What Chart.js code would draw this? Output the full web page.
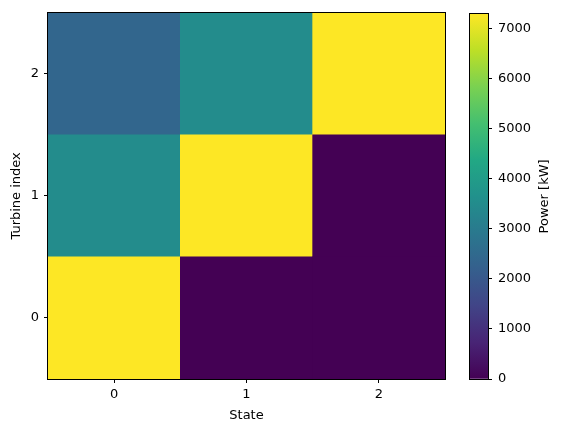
<!DOCTYPE html>
<html>
<head>
<meta charset="utf-8">
<script src="https://cdn.jsdelivr.net/npm/chart.js@4/dist/chart.umd.min.js"></script>
<style>
  body { margin: 0; background: #fff; }
  #wrap { position: relative; width: 562px; height: 432px; }
  #wrap canvas { position: absolute; left: 0; top: 0; }
</style>
</head>
<body>
<div id="wrap">
  <canvas id="heat" width="562" height="432"></canvas>
  <canvas id="cbar" width="562" height="432"></canvas>
</div>
<script>
// data
const states = ["0", "1", "2"];
const turbines = [0, 1, 2];
// power per turbine (row) for each state (column)
const power0 = [7300, 0, 0];
const power1 = [3500, 7300, 0];
const power2 = [2400, 3500, 7300];
const vmax = 7300;
const colorTicks = [0, 1000, 2000, 3000, 4000, 5000, 6000, 7000];

const powerRows = [power0, power1, power2];

Chart.defaults.font.family = "DejaVu Sans";
Chart.defaults.font.size = 13;
Chart.defaults.color = "#000";
Chart.defaults.animation = false;

// viridis stops
const viridis = ["#440154", "#482475", "#414487", "#355f8d", "#2a788e",
  "#21918c", "#22a884", "#44bf70", "#7ad151", "#bddf26", "#fde725"];

function hexToRgb(h) {
  return [parseInt(h.substr(1, 2), 16), parseInt(h.substr(3, 2), 16), parseInt(h.substr(5, 2), 16)];
}

function viridisColor(t) {
  t = Math.max(0, Math.min(1, t));
  let pos = t * (viridis.length - 1);
  let i = Math.min(Math.floor(pos), viridis.length - 2);
  let f = pos - i;
  let a = hexToRgb(viridis[i]), b = hexToRgb(viridis[i + 1]);
  let c = a.map((v, k) => Math.round(v + (b[k] - v) * f));
  return "rgb(" + c.join(",") + ")";
}

// matplotlib style box around the plot area
const frame = {
  id: "frame",
  afterDraw(chart) {
    const a = chart.chartArea;
    const ctx = chart.ctx;
    ctx.save();
    ctx.strokeStyle = "#000";
    ctx.lineWidth = 1;
    ctx.strokeRect(Math.round(a.left) - 0.5, Math.round(a.top) - 0.5,
      Math.round(a.right - a.left) + 1, Math.round(a.bottom - a.top) + 1);
    ctx.restore();
  }
};

const heatDatasets = turbines.map(r => ({
  label: "turbine " + r,
  data: states.map(() => [r - 0.5, r + 0.5]),
  backgroundColor: powerRows[r].map(p => viridisColor(p / vmax)),
  borderWidth: 0,
  barPercentage: 1,
  categoryPercentage: 1,
  grouped: false
}));

new Chart(document.getElementById("heat"), {
  type: "bar",
  data: { labels: states, datasets: heatDatasets },
  options: {
    responsive: false,
    layout: { padding: { left: 0, top: 9, right: 117, bottom: 0 } },
    plugins: { legend: { display: false }, tooltip: { enabled: false } },
    scales: {
      x: {
        grid: { display: true, offset: false, drawOnChartArea: false, drawTicks: true, tickLength: 4, color: "#000" },
        border: { display: false },
        ticks: { padding: 4 },
        title: { display: true, text: "State", padding: { top: 0, bottom: 9 } },
        afterFit(scale) { scale.height = 53; }
      },
      y: {
        min: -0.5,
        max: 2.5,
        afterBuildTicks(scale) { scale.ticks = turbines.map(v => ({ value: v })); },
        grid: { display: true, drawOnChartArea: false, drawTicks: true, tickLength: 4, color: "#000" },
        border: { display: false },
        ticks: { padding: 5 },
        title: { display: true, text: "Turbine index", padding: { top: 9, bottom: 0 } },
        afterFit(scale) { scale.width = 48; }
      }
    }
  },
  plugins: [frame]
});

// colorbar
const cbTitle = {
  id: "cbTitle",
  afterDraw(chart) {
    const a = chart.chartArea;
    const ctx = chart.ctx;
    ctx.save();
    ctx.translate(545, (a.top + a.bottom) / 2);
    ctx.rotate(-Math.PI / 2);
    ctx.font = "13px 'DejaVu Sans'";
    ctx.fillStyle = "#000";
    ctx.textAlign = "center";
    ctx.textBaseline = "middle";
    ctx.fillText("Power [kW]", 0, 0);
    ctx.restore();
  }
};

new Chart(document.getElementById("cbar"), {
  type: "bar",
  data: {
    labels: ["power"],
    datasets: [{
      data: [[0, vmax]],
      borderWidth: 0,
      barPercentage: 1,
      categoryPercentage: 1,
      backgroundColor(ctx) {
        const a = ctx.chart.chartArea;
        if (!a) return viridis[0];
        const g = ctx.chart.ctx.createLinearGradient(0, a.bottom, 0, a.top);
        viridis.forEach((c, i) => g.addColorStop(i / (viridis.length - 1), c));
        return g;
      }
    }]
  },
  options: {
    responsive: false,
    layout: { padding: { left: 470, top: 9, right: 0, bottom: 53 } },
    plugins: { legend: { display: false }, tooltip: { enabled: false } },
    scales: {
      x: { display: false },
      y: {
        position: "right",
        min: 0,
        max: vmax,
        afterBuildTicks(scale) { scale.ticks = colorTicks.map(v => ({ value: v })); },
        grid: { display: true, drawOnChartArea: false, drawTicks: true, tickLength: 4, color: "#000" },
        border: { display: false },
        ticks: { padding: 6, callback: v => String(v) },
        afterFit(scale) { scale.width = 74; }
      }
    }
  },
  plugins: [frame, cbTitle]
});
</script>
</body>
</html>
